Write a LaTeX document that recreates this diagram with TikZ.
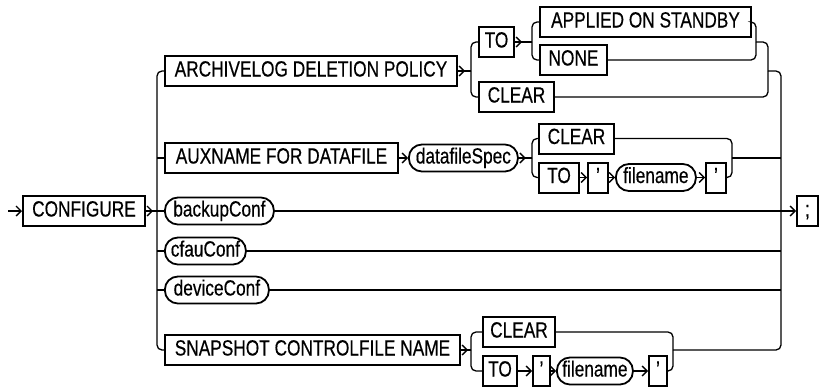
\documentclass[tikz,border=0pt]{standalone}
\usepackage{fontspec}
\setmainfont{Liberation Sans}[FakeStretch=0.785,FakeBold=0.4]
\usetikzlibrary{arrows.meta,decorations.markings}
\tikzset{
  kw/.style={draw, line width=2pt, rectangle, inner sep=0pt, minimum height=30pt,
    text height=15pt, text depth=4pt, font=\fontsize{22}{25}\selectfont, anchor=west},
  nt/.style={draw, line width=1.8pt, rectangle, rounded corners=13pt, inner sep=0pt,
    minimum height=27pt, text height=15pt, text depth=4pt, font=\fontsize{22}{25}\selectfont, anchor=west},
  ln/.style={line width=1.3pt},
  rc/.style={ln, rounded corners=5pt},
  arr/.style={ln, -{Straight Barb[length=5pt,width=10pt]}},
  arrb/.style={ln, postaction={decorate}, decoration={markings,
    mark=at position 7pt with {\arrow{Straight Barb[length=5pt,width=10pt]}}}},
}
\begin{document}
\begin{tikzpicture}[x=1pt,y=-1pt]
\fill[white] (0,0) rectangle (819,388);
\useasboundingbox (0,0) rectangle (819,388);
% main column
\coordinate (start) at (8,211);
\node[kw, minimum width=122] (conf) at (22,211) {CONFIGURE};
\coordinate (b1) at (157,211);
\coordinate (c1) at (781,211);
\node[kw, minimum width=292] (arch) at (164,71) {ARCHIVELOG DELETION POLICY};
\node[kw, minimum width=233] (aux) at (164,158) {AUXNAME FOR DATAFILE};
\node[nt, minimum width=109] (backup) at (164,211) {backupConf};
\node[nt, minimum width=81] (cfau) at (164,251) {cfauConf};
\node[nt, minimum width=104] (device) at (164,290) {deviceConf};
\node[kw, minimum width=295] (snap) at (164,350) {SNAPSHOT CONTROLFILE NAME};
\node[kw, minimum width=21] (semi) at (796,211) {;};
% archivelog branch
\coordinate (b2) at (471,71);
\node[kw, minimum width=35] (to1) at (478,42) {TO};
\node[kw, minimum width=75] (clear1) at (478,97) {CLEAR};
\coordinate (b3) at (532,42);
\node[kw, minimum width=211] (applied) at (539,22) {APPLIED ON STANDBY};
\node[kw, minimum width=67] (none) at (539,60) {NONE};
\coordinate (c3) at (756,42);
\coordinate (c2) at (768,71);
% auxname branch
\node[nt, minimum width=109] (dfs) at (408,158) {datafileSpec};
\coordinate (b4) at (532,158);
\node[kw, minimum width=75] (clear2) at (538,138.5) {CLEAR};
\node[kw, minimum width=40] (to2) at (538,177.5) {TO};
\node[kw, minimum width=20] (q1) at (587,177.5) {'};
\node[nt, minimum width=80] (fn1) at (615,177.5) {filename};
\node[kw, minimum width=20] (q2) at (705,177.5) {'};
\coordinate (c4) at (732,158);
% snapshot branch
\coordinate (b5) at (471,350);
\node[kw, minimum width=72] (clear3) at (482,332) {CLEAR};
\node[kw, minimum width=34] (to3) at (482,371) {TO};
\node[kw, minimum width=17] (q3) at (532,371) {'};
\node[nt, minimum width=76] (fn2) at (556,371) {filename};
\node[kw, minimum width=18] (q4) at (648,371) {'};
\coordinate (c5) at (673,350);
% main connectors
\draw[arr] (start) -- (conf.west);
\draw[arrb] (conf.east) -- (b1);
\draw[rc] (b1) |- (arch.west);
\draw[rc] (b1) |- (snap.west);
\draw[ln] (b1 |- aux.west) -- (aux.west);
\draw[ln] (b1) -- (backup.west);
\draw[ln] (b1 |- cfau.west) -- (cfau.west);
\draw[ln] (b1 |- device.west) -- (device.west);
\draw[ln] (backup.east) -- (c1);
\draw[ln] (cfau.east) -- (c1 |- cfau.east);
\draw[ln] (device.east) -- (c1 |- device.east);
\draw[ln] (c4) -- (c1 |- c4);
\draw[rc] (c2) -| (c1);
\draw[rc] (c5) -| (c1);
\draw[arr] (c1) -- (semi.west);
% archivelog connectors
\draw[arrb] (arch.east) -- (b2);
\draw[rc] (b2) |- (to1.west);
\draw[rc] (b2) |- (clear1.west);
\draw[arrb] (to1.east) -- (b3);
\draw[rc] (b3) |- (applied.west);
\draw[rc] (b3) |- (none.west);
\draw[rc] (applied.east) -| (c3);
\draw[rc] (none.east) -| (c3);
\draw[rc] (c3) -| (c2);
\draw[rc] (clear1.east) -| (c2);
% auxname connectors
\draw[arr] (aux.east) -- (dfs.west);
\draw[arrb] (dfs.east) -- (b4);
\draw[rc] (b4) |- (clear2.west);
\draw[rc] (b4) |- (to2.west);
\draw[arr] (to2.east) -- (q1.west);
\draw[arr] (q1.east) -- (fn1.west);
\draw[arr] (fn1.east) -- (q2.west);
\draw[rc] (clear2.east) -| (c4);
\draw[rc] (q2.east) -| (c4);
% snapshot connectors
\draw[arrb] (snap.east) -- (b5);
\draw[rc] (b5) |- (clear3.west);
\draw[rc] (b5) |- (to3.west);
\draw[arr] (to3.east) -- (q3.west);
\draw[arr] (q3.east) -- (fn2.west);
\draw[arr] (fn2.east) -- (q4.west);
\draw[rc] (clear3.east) -| (c5);
\draw[rc] (q4.east) -| (c5);
\end{tikzpicture}
\end{document}
